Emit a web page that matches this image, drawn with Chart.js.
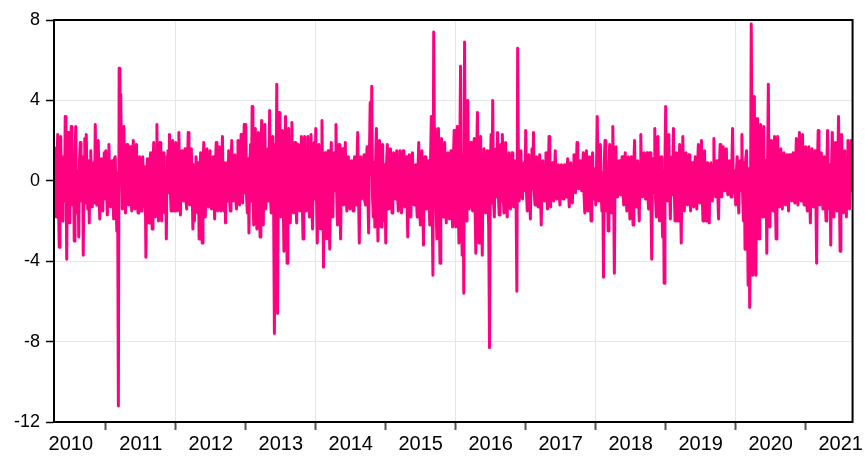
<!DOCTYPE html>
<html>
<head>
<meta charset="utf-8">
<script src="https://cdn.jsdelivr.net/npm/chart.js@4.4.1/dist/chart.umd.min.js"></script>
<style>
  html, body { margin: 0; padding: 0; background: #fff; }
  #wrap { width: 865px; height: 457px; }
</style>
</head>
<body>
<div id="wrap"><canvas id="grafico"></canvas></div>
<script>
// anos do eixo x e marcas do eixo y
const anos = [2010, 2011, 2012, 2013, 2014, 2015, 2016, 2017, 2018, 2019, 2020, 2021]
const marcasY = [-12, -8, -4, 0, 4, 8]
const inicioDados = 2010.27
const fimDados = 2021.66

// retornos diarios, um array por ano
const r2010 = [1.7, -0.6, -1.8, 0.9, 2.3, -0.8, -3.3, 1.1, 2.2, -0.5, -2.0, 0.7, 1.2, -1.0, 3.2, 0.4, -3.9,
    1.2, 2.4, -0.9, -2.1, 0.8, 2.7, -0.4, -1.2, 0.6, -3.0, 1.3, 2.7, -0.7, -1.6, 0.5, -2.8, 1.0, 1.9, -0.8,
    -1.0, 1.2, -3.7, 0.6, 2.1, -1.1, 2.3, 0.3, -1.4, 1.0, -2.1, 0.7, 1.5, -0.6, -1.3, 0.8, 0.9, -1.1, 2.8,
    -0.5, -1.2, 1.3, 2.0, -0.7, -1.9, 0.9, 1.1, -0.8, -1.5, 0.6, 1.4, -0.9]
const r2011 = [1.5, -0.5, -1.7, 0.8, 1.8, -0.9, -1.3, 0.6, 1.0, -0.7, -1.9, 1.1, 1.2, -0.8, -2.5, 0.4, -11.2,
    5.6, 0.5, 4.3, 1.0, -1.4, 0.7, 2.7, -0.9, -1.6, 1.0, 1.8, -0.6, -1.2, 0.9, 1.7, -0.8, -1.5, 1.1, 2.0,
    -0.6, -1.4, 0.8, 1.8, -0.9, -1.6, 0.5, 1.2, -0.8, -1.5, 0.9, 1.2, -0.6, -1.3, 0.7, -3.8, 0.4, 1.1, -0.9,
    -2.1, 0.8, 1.4, -0.7, -2.4, 1.0, 1.9, -0.6, -1.8, 0.9, 2.8, -0.5, -2.0, 1.1, 1.9, -0.8, -2.0, 0.7, 1.4,
    -0.9, -1.6, 0.4, -2.9, 1.2, 1.5, -0.6, 2.3, -0.3, -1.5, 0.9, 2.0, -0.8, -1.5, 0.7]
const r2012 = [1.9, -0.7, -1.5, 0.8, 2.4, -0.5, -1.7, 1.0, 1.5, -0.8, -1.0, 0.6, 1.6, -0.9, -1.4, 0.7, 2.4,
    -0.6, -1.2, 1.1, 1.6, -0.4, -2.4, 0.8, -2.0, 0.6, 1.2, -1.0, -1.6, 0.9, -2.9, 0.5, 1.4, -0.7, -3.1, 0.8,
    1.9, -0.9, -1.8, 0.6, 1.6, -0.8, -1.3, 1.0, 1.5, -0.5, -1.4, 0.9, 1.2, -0.7, -1.9, 0.8, 1.9, -0.6, -1.5,
    1.0, 1.7, -0.9, -1.5, 0.7, 2.2, -0.6, -1.5, 0.9, -2.1, 0.4, 0.9, -1.0, 1.5, -0.7, -1.5, 0.8, 2.0, -0.5,
    -1.0, 1.1, 1.3, -0.8, -1.4, 0.6, 2.0, -0.9, -1.2, 1.0, 2.3, -0.7, -1.1, 0.9, 2.8, -0.6]
const r2013 = [2.8, -0.8, -1.6, 1.1, -2.6, 0.7, 1.8, -1.0, 3.7, -0.6, -2.2, 1.2, 2.6, -0.9, -2.4, 1.0, 2.4,
    -1.2, -2.8, 0.8, 3.0, -1.1, -2.2, 0.9, 2.8, -1.4, -0.8, 1.3, 1.6, -1.0, 3.5, -0.7, -1.6, 1.2, 2.2, -1.1,
    -7.6, 1.8, -0.5, 4.8, -6.6, 0.8, 3.4, -1.2, -1.8, 1.0, 2.5, -0.9, -3.5, 1.1, 3.2, -0.8, -4.1, 0.9, 2.6,
    -1.3, -2.1, 1.0, 2.9, -0.7, -1.6, 1.2, 1.9, -0.9, -2.1, 0.6, 1.8, -1.0, -1.5, 0.8, 2.2, -0.9, -2.9, 1.1,
    2.2, -0.7, -1.5, 1.0, 2.2, -0.8, -1.8, 0.9, 2.3, -1.1, -2.4, 0.7, 1.9, -0.9]
const r2014 = [2.6, -0.9, -3.1, 1.0, 1.8, -0.8, -2.4, 1.1, 3.0, -0.7, -4.3, 0.9, 1.4, -1.0, -2.9, 0.8, 1.5,
    -1.1, -3.4, 0.6, 1.9, -0.9, -1.8, 1.0, 1.4, -0.5, 2.8, -0.8, -2.2, 0.9, 1.8, -1.0, -2.9, 0.7, 1.6, -0.8,
    -1.2, 0.9, 1.9, -0.6, -1.5, 0.8, 1.2, -0.9, -1.4, 0.6, 1.0, -0.7, -1.5, 0.9, 1.2, -0.8, -1.2, 1.0, 2.4,
    -0.6, -3.1, 0.7, 1.2, -0.9, -0.8, 0.6, 1.3, -1.0, -1.2, 0.8, 1.7, -0.7, -2.6, 1.2, 3.9, 0.3, 4.7, -0.8,
    -1.8, 0.9, -2.3, 1.1, 2.6, -0.9, -3.0, 1.0, 2.0, -0.8, -2.3, 0.9, 1.8, -1.1, -2.0, 0.8]
const r2015 = [-3.1, 0.8, 1.8, -0.7, -1.4, 0.6, 1.6, -0.8, -1.6, 0.9, 1.4, -0.5, -0.9, 0.7, 1.5, -0.8, -1.5,
    0.6, 1.5, -0.9, -1.6, 0.7, 1.5, -0.6, -1.3, 0.8, 1.2, -0.9, -2.8, 0.5, 1.3, -0.7, -1.8, 0.9, 1.4, -0.6,
    -1.2, 0.7, 0.8, -0.9, -1.8, 0.6, 1.9, -1.0, -2.2, 0.8, 1.5, -0.7, -3.2, 0.9, 1.2, -1.1, -1.4, 0.8, 1.0,
    -0.9, -2.2, 1.1, 3.2, -1.2, -4.7, 7.4, 1.0, 2.6, -1.2, -2.9, 1.1, 2.6, -1.0, -4.1, 0.9, 2.1, -0.8, -1.8,
    1.0, 1.9, -0.9, -2.1, 0.7, 1.4, -1.1, -1.9, 0.8, 1.5, -0.9, -2.3, 1.0, 2.5, -0.8]
const r2016 = [-2.3, 0.9, 2.7, -1.0, -3.1, 1.2, 5.7, -0.8, -3.7, 1.3, -5.6, 6.9, -1.1, -2.0, 1.4, 4.0, -0.9,
    -1.4, 1.1, 1.9, -0.8, -1.5, 1.0, 2.1, -1.2, -3.6, 1.3, 3.4, -1.0, -3.1, 0.9, 2.2, -1.3, -3.7, 1.1, 1.6,
    -0.9, -1.6, 0.8, 1.5, -1.0, -2.3, -8.3, 0.7, 2.3, -1.1, 4.0, -0.9, -1.8, 1.0, 1.6, -0.8, 2.4, -0.7, -1.7,
    0.9, 1.8, -1.0, 2.3, -0.8, -1.6, 0.7, 1.9, -0.9, -1.8, 0.6, 1.4, -0.8, -1.4, 0.9, 1.4, -0.7, -1.3, 0.6,
    1.0, -0.9, -5.5, 6.6, 0.4, -1.0, 0.8, 1.5, -0.6, -0.9, 0.7, 0.9, -0.5]
const r2017 = [2.5, -0.6, -1.5, 0.7, 1.3, -0.8, -1.9, 0.5, 1.6, -0.4, 2.4, -0.7, -1.2, 0.6, 1.2, -0.8, -1.3,
    0.5, 1.3, -0.6, -2.2, 0.7, 1.0, -0.5, -1.0, 0.6, 1.4, -0.7, -1.4, 0.4, 2.2, -0.6, -1.3, 0.5, 0.9, -0.6,
    -1.0, 0.4, 1.5, -0.5, -0.9, 0.6, 0.8, -0.5, -1.2, 0.4, 0.8, -0.6, -0.9, 0.5, 0.8, -0.4, -0.8, 0.6, 1.1,
    -0.5, -1.3, 0.4, 0.9, -0.6, -1.1, 0.5, 1.3, -0.3, -0.6, 0.7, 1.9, 0.2, -0.4, 0.6, 1.0, -0.2, -0.5, 0.5,
    1.4, -0.7, -1.6, 0.6, 1.5, -0.6, -1.5, 0.5, 1.2, -0.7, -2.0, 0.4, 1.4, -0.5, -0.9, 0.6]
const r2018 = [-1.2, 0.6, 3.2, -0.5, -1.0, 0.7, 1.8, -0.6, -1.5, 0.4, -4.8, 0.9, 2.0, -0.7, -1.5, 0.6, -2.5,
    0.8, 1.8, -0.6, -1.6, 0.5, 2.7, -0.4, -4.6, 0.8, 1.7, -0.6, -0.8, 0.5, 1.0, -0.4, -0.7, 0.6, 1.2, -0.5,
    -1.2, 0.7, 1.4, -0.6, -1.5, 0.5, 1.2, -0.7, -1.9, 0.6, 1.2, -0.5, -2.2, 0.8, 2.0, -0.6, -1.3, 0.5, 1.0,
    -0.7, -2.0, 0.6, 2.3, -0.5, -0.8, 0.4, 1.4, -0.6, -0.9, 0.5, 1.4, -0.7, -1.4, 0.6, 1.4, -0.8, -3.9, 0.7,
    1.1, -0.6, 2.6, -0.9, -1.8, 0.8, 2.2, -0.7, -2.0, 0.6, 1.2, -0.9, -2.8, 0.5, -5.1, 0.8]
const r2019 = [3.7, -0.6, -1.0, 0.7, 2.3, -0.5, -1.9, 0.6, 1.2, -0.7, 2.6, -0.4, -2.0, 0.8, 1.4, -0.6, -2.0,
    0.5, 1.8, -0.7, -3.1, 0.9, 2.2, -0.6, -1.5, 0.7, 1.4, -0.5, -1.2, 0.6, 1.3, -0.7, -1.5, 0.5, 0.9, -0.6,
    -1.3, 0.4, 1.2, -0.5, -1.4, 0.7, 1.8, -0.6, -1.1, 0.5, 2.0, -0.8, -2.0, 0.6, 1.5, -0.7, -2.0, 0.5, 0.9,
    -0.6, -2.1, 0.4, 0.9, -0.5, -1.0, 0.6, 2.1, -0.4, -0.8, 0.5, 1.0, -0.7, -1.9, 0.6, 1.8, -0.4, -0.8, 0.5,
    1.7, -0.3, -0.5, 0.6, 1.6, -0.4, -0.7, 0.5, 1.0, -0.4, -0.8, 0.7, 2.6, -0.3, -0.6, 0.5]
const r2020 = [-1.2, 0.5, 1.2, -0.6, -1.6, 0.7, 1.0, -0.5, 2.3, -0.8, -2.0, 0.9, -3.4, 1.1, 1.5, -1.2, -5.2,
    0.6, -6.3, -2.0, 7.8, 1.5, -4.7, 2.0, 4.2, -1.5, -4.7, 1.8, 3.1, -1.2, -2.9, 1.4, 2.8, -1.0, -1.8, 1.3,
    2.7, -0.9, -1.8, 1.0, -3.6, 0.8, 4.8, -1.1, -2.3, 0.9, 2.0, -0.8, -1.5, 1.1, 2.2, -0.7, -2.9, 0.9, 2.2,
    -0.8, -1.3, 0.7, 1.6, -0.9, -1.4, 0.6, 1.4, -0.8, -1.2, 0.7, 1.3, -0.6, -1.5, 0.8, 1.3, -0.7, -1.0, 0.6,
    1.4, -0.9, -1.1, 0.5, 2.1, -0.8, -1.2, 0.7, 2.4, -0.6, -1.0, 0.9, 2.3, -0.7, -1.2, 0.6]
const r2021 = [1.7, -0.6, -1.5, 0.8, 1.7, -0.7, -2.1, 0.6, 1.6, -0.8, -1.3, 0.5, 1.5, -0.9, -4.1, 0.7, 2.5,
    -0.6, -1.2, 0.8, 1.4, -0.7, -1.4, 0.6, 1.2, -0.9, -2.0, 0.7, 2.5, -0.5, -1.4, 0.8, -3.2, 0.6, 2.4, -0.7,
    -1.8, 0.9, 1.9, -0.6, -1.5, 0.8, 3.2, -0.4, -3.5, 0.7, 2.3, -0.8, -1.6, 0.6, 1.5, -0.7, -1.8, 0.9, 2.0,
    -0.6, -1.4, 0.8, 2.0, -0.5]

const retornosPorAno = [r2010, r2011, r2012, r2013, r2014, r2015, r2016, r2017, r2018, r2019, r2020, r2021]

//espalhar os dias de cada ano ao longo do ano
const gerarPontos = function () {
    const pontos = []
    retornosPorAno.forEach((valores, k) => {
        const ultimo = k === retornosPorAno.length - 1
        const de = k === 0 ? inicioDados : anos[k]
        const ate = ultimo ? fimDados : anos[k] + 1
        const passo = (ate - de) / (ultimo ? valores.length - 1 : valores.length)
        valores.forEach((v, i) => pontos.push({ x: de + i * passo, y: v }))
    })
    return pontos
}

//moldura preta em volta da area do grafico
const moldura = {
    id: 'moldura',
    afterDraw(chart) {
        const { ctx, chartArea: a } = chart
        ctx.save()
        ctx.strokeStyle = '#000'
        ctx.lineWidth = 2
        ctx.strokeRect(a.left, a.top, a.right - a.left, a.bottom - a.top)
        ctx.restore()
    }
}

const fonte = "'Liberation Sans', Arial, sans-serif"

new Chart(document.querySelector('#grafico'), {
    type: 'line',
    data: {
        datasets: [{
            data: gerarPontos(),
            borderColor: 'rgb(255, 0, 128)',
            borderWidth: 3,
            borderJoinStyle: 'round',
            pointRadius: 0,
            tension: 0,
            fill: false
        }]
    },
    options: {
        responsive: true,
        maintainAspectRatio: false,
        animation: false,
        layout: { padding: { top: 20, right: 6 } },
        plugins: { legend: { display: false }, tooltip: { enabled: false } },
        scales: {
            x: {
                type: 'linear',
                min: inicioDados - 0.01,
                max: fimDados + 0.01,
                afterBuildTicks: (escala) => {
                    const t = []
                    anos.forEach(a => {
                        if (a > anos[0]) t.push({ value: a })
                        t.push({ value: a + 0.5 })
                    })
                    escala.ticks = t
                },
                afterFit: (escala) => { escala.height = 35 },
                ticks: {
                    autoSkip: false,
                    maxRotation: 0,
                    padding: 2,
                    color: '#000',
                    font: { family: fonte, size: 20 },
                    callback: (v) => (v % 1 !== 0 ? String(Math.floor(v)) : '')
                },
                grid: {
                    drawOnChartArea: true,
                    tickLength: 8,
                    lineWidth: 1,
                    color: (c) => (c.tick && c.tick.value % 2 === 0 ? '#e6e6e6' : 'rgba(0,0,0,0)'),
                    tickColor: (c) => (c.tick && c.tick.value % 1 === 0 ? '#555' : 'rgba(0,0,0,0)'),
                    tickWidth: 2
                },
                border: { color: '#000', width: 2 }
            },
            y: {
                min: -12,
                max: 8,
                afterBuildTicks: (escala) => { escala.ticks = marcasY.map(v => ({ value: v })) },
                afterFit: (escala) => { escala.width = 54 },
                ticks: {
                    padding: 6,
                    color: '#000',
                    font: { family: fonte, size: 18 }
                },
                grid: {
                    color: '#e6e6e6',
                    lineWidth: 1,
                    tickLength: 8,
                    tickColor: '#000',
                    tickWidth: 1.5
                },
                border: { color: '#000', width: 2 }
            }
        }
    },
    plugins: [moldura]
})
</script>
</body>
</html>
